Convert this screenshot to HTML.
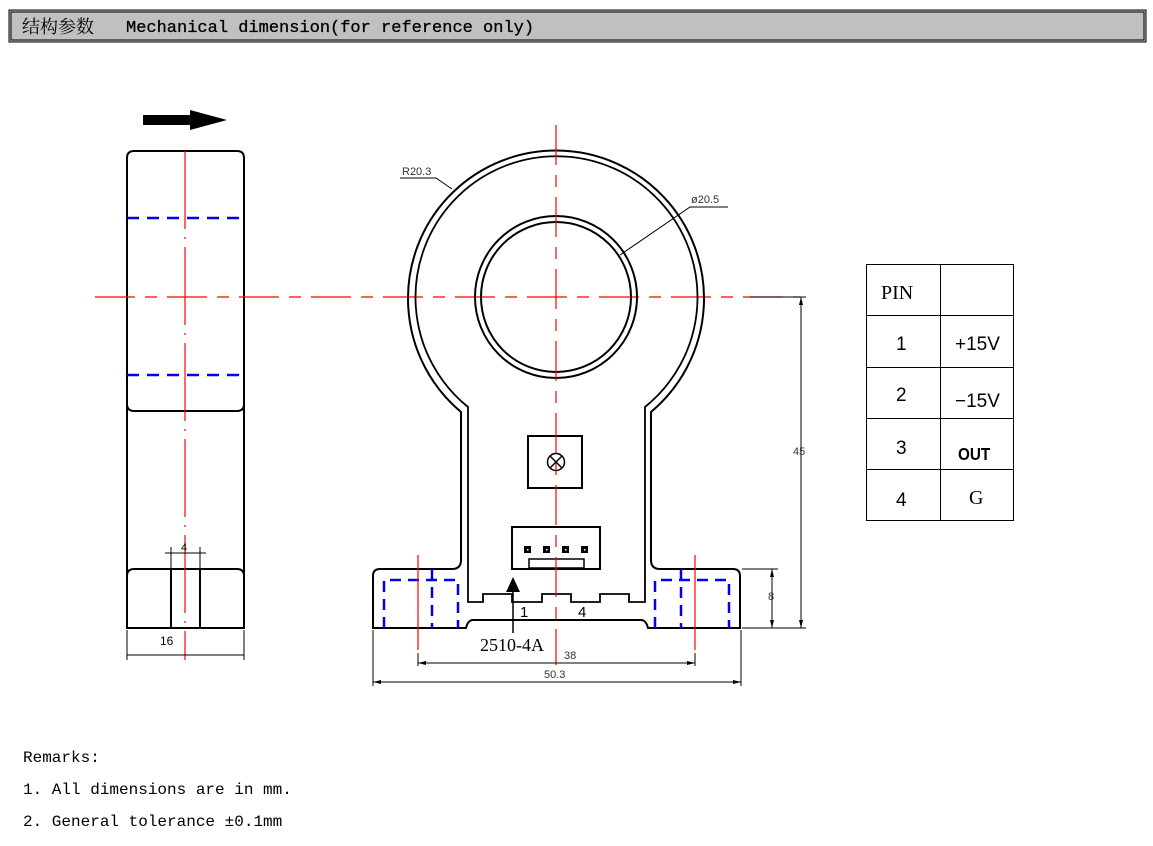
<!DOCTYPE html>
<html><head><meta charset="utf-8"><style>
html,body{margin:0;padding:0;background:#fff;}
svg{display:block;}
</style></head><body>
<svg width="1153" height="846" viewBox="0 0 1153 846" xmlns="http://www.w3.org/2000/svg">
<!-- header -->
<rect x="9" y="10" width="1137" height="32" fill="#c0c0c0" stroke="#000" stroke-width="1"/>
<rect x="11" y="12" width="1133" height="28" fill="none" stroke="#000" stroke-width="1"/>
<text x="22" y="33" font-family="Liberation Serif, 'Noto Serif CJK SC', serif" font-size="18" fill="#000">结构参数</text>
<text x="126" y="32" font-family="Liberation Mono, monospace" font-size="17" fill="#000" stroke="#000" stroke-width="0.3">Mechanical dimension(for reference only)</text>

<!-- left side view -->
<polygon points="143,115 190,115 190,110 227,120 190,130 190,125 143,125" fill="#000"/>
<g fill="none" stroke="#000" stroke-width="2">
<path d="M127,628 V158 Q127,151 134,151 H237 Q244,151 244,158 V628 Z"/>
<path d="M127,404 Q127,411 134,411 H237 Q244,411 244,404"/>
<path d="M127,576 Q127,569 134,569 H237 Q244,569 244,576"/>
<line x1="171" y1="569" x2="171" y2="628"/>
<line x1="200" y1="569" x2="200" y2="628"/>
</g>
<g stroke="#0000ee" stroke-width="2.5" fill="none" stroke-dasharray="12,8">
<path d="M127,218 H238 Q243,218 244,212"/>
<path d="M127,375 H238 Q243,375 244,381"/>
</g>
<g stroke="#f00" stroke-width="1.2" fill="none">
<line x1="185" y1="151" x2="185" y2="660" stroke-dasharray="78,8,2,8"/>
<line x1="95" y1="297" x2="800" y2="297" stroke-dasharray="40,10,12,10"/>
</g>
<!-- dims left -->
<g stroke="#000" stroke-width="1" fill="none">
<line x1="171" y1="547" x2="171" y2="569"/><line x1="200" y1="547" x2="200" y2="569"/>
<line x1="165" y1="553" x2="206" y2="553"/>
<line x1="127" y1="630" x2="127" y2="660"/><line x1="244" y1="630" x2="244" y2="660"/>
<line x1="127" y1="655" x2="244" y2="655"/>
</g>
<text x="181" y="551" font-family="Liberation Sans, sans-serif" font-size="11" fill="#000">4</text>
<text x="160" y="645" font-family="Liberation Sans, sans-serif" font-size="12" fill="#000">16</text>

<!-- main front view -->
<g fill="none" stroke="#000" stroke-width="2">
<path d="M461,412 A148,148 0 1 1 651,412 L651,412 V560 Q651,569 660,569 H733 Q740,569 740,576 V628 H648 Q646,620 641,620 H473 Q468,620 466,628 H373 V576 Q373,569 380,569 H452 Q461,569 461,560 Z"/>
<path d="M468,407 A141,141 0 1 1 645,407 V602 H629 V594 H600 V602 H571 V594 H542 V602 H512 V594 H483 V602 H468 Z" stroke-width="1.8"/>
<circle cx="556" cy="297" r="81"/>
<circle cx="556" cy="297" r="75"/>
<rect x="528" y="436" width="54" height="52"/>
<rect x="512" y="527" width="88" height="42"/>
<rect x="529" y="559" width="55" height="9" stroke-width="1.5"/>
</g>
<g stroke="#000" stroke-width="1.5" fill="none">
<circle cx="556" cy="462" r="8.5"/>
<line x1="550" y1="456" x2="562" y2="468"/><line x1="562" y1="456" x2="550" y2="468"/>
</g>
<g fill="#000">
<rect x="524" y="546" width="7" height="7"/><rect x="543" y="546" width="7" height="7"/><rect x="562" y="546" width="7" height="7"/><rect x="581" y="546" width="7" height="7"/>
</g>
<g fill="#fff"><rect x="527" y="549" width="1.5" height="1.5"/><rect x="546" y="549" width="1.5" height="1.5"/><rect x="565" y="549" width="1.5" height="1.5"/><rect x="584" y="549" width="1.5" height="1.5"/></g>
<g stroke="#0000ee" stroke-width="2.5" fill="none" stroke-dasharray="11,7">
<path d="M384,628 V580 H458 V628"/>
<line x1="432" y1="569" x2="432" y2="628"/>
<path d="M655,628 V580 H729 V628"/>
<line x1="681" y1="569" x2="681" y2="628"/>
</g>
<g stroke="#f00" stroke-width="1.2" fill="none">
<line x1="556" y1="125" x2="556" y2="665" stroke-dasharray="40,10,12,10"/>
<line x1="418" y1="555" x2="418" y2="650"/>
<line x1="695" y1="555" x2="695" y2="650"/>
</g>
<!-- pointer -->
<line x1="513" y1="590" x2="513" y2="633" stroke="#000" stroke-width="1.5"/>
<polygon points="506,592 513,577 520,592" fill="#000"/>
<text x="480" y="651" font-family="Liberation Serif, serif" font-size="18" fill="#000">2510-4A</text>
<text x="520" y="617" font-family="Liberation Sans, sans-serif" font-size="15" fill="#000">1</text>
<text x="578" y="617" font-family="Liberation Sans, sans-serif" font-size="15" fill="#000">4</text>
<!-- dimension lines -->
<g stroke="#000" stroke-width="1" fill="none">
<line x1="418" y1="653" x2="418" y2="666"/><line x1="695" y1="653" x2="695" y2="666"/>
<line x1="418" y1="663" x2="695" y2="663"/>
<line x1="373" y1="630" x2="373" y2="686"/><line x1="741" y1="630" x2="741" y2="686"/>
<line x1="373" y1="682" x2="741" y2="682"/>
<line x1="750" y1="297" x2="806" y2="297"/>
<line x1="742" y1="628" x2="806" y2="628"/>
<line x1="742" y1="569" x2="778" y2="569"/>
<line x1="801" y1="297" x2="801" y2="628"/>
<line x1="772" y1="569" x2="772" y2="628"/>
<path d="M400,178 H436 L452,189"/>
<path d="M620,255 L690,207 H728"/>
</g>
<g fill="#000">
<polygon points="418,663 426,661 426,665"/><polygon points="695,663 687,661 687,665"/>
<polygon points="373,682 381,680 381,684"/><polygon points="741,682 733,680 733,684"/>
<polygon points="801,297 799,305 803,305"/><polygon points="801,628 799,620 803,620"/>
<polygon points="772,569 770,577 774,577"/><polygon points="772,628 770,620 774,620"/>
</g>
<g font-family="Liberation Sans, sans-serif" font-size="11" fill="#333">
<text x="564" y="659">38</text>
<text x="544" y="678">50.3</text>
<text x="793" y="455">45</text>
<text x="768" y="600">8</text>
<text x="402" y="175">R20.3</text>
<text x="691" y="203">ø20.5</text>
</g>

<!-- table -->
<g stroke="#000" stroke-width="1" fill="none">
<rect x="866.5" y="264.5" width="147" height="256"/>
<line x1="940.5" y1="264" x2="940.5" y2="521"/>
<line x1="866" y1="315.5" x2="1013" y2="315.5"/>
<line x1="866" y1="367.5" x2="1013" y2="367.5"/>
<line x1="866" y1="418.5" x2="1013" y2="418.5"/>
<line x1="866" y1="469.5" x2="1013" y2="469.5"/>
</g>
<text x="881" y="299" font-family="Liberation Serif, serif" font-size="20" fill="#000">PIN</text>
<g font-family="Liberation Sans, sans-serif" font-size="19" fill="#000">
<text x="896" y="350">1</text><text x="896" y="401">2</text><text x="896" y="454">3</text><text x="896" y="506">4</text>
<text x="955" y="350">+15V</text><text x="955" y="407">−15V</text>
</g>
<text x="958" y="460" font-family="Liberation Sans, sans-serif" font-size="18" font-weight="bold" fill="#000" transform="translate(958,0) scale(0.85,1) translate(-958,0)">OUT</text>
<text x="969" y="504" font-family="Liberation Serif, serif" font-size="20" fill="#000">G</text>

<!-- remarks -->
<g font-family="Liberation Mono, 'Noto Sans CJK SC', monospace" font-size="16" fill="#000">
<text x="23" y="762">Remarks:</text>
<text x="23" y="794">1. All dimensions are in mm.</text>
<text x="23" y="826">2. General tolerance ±0.1mm</text>
</g>
</svg>
</body></html>
